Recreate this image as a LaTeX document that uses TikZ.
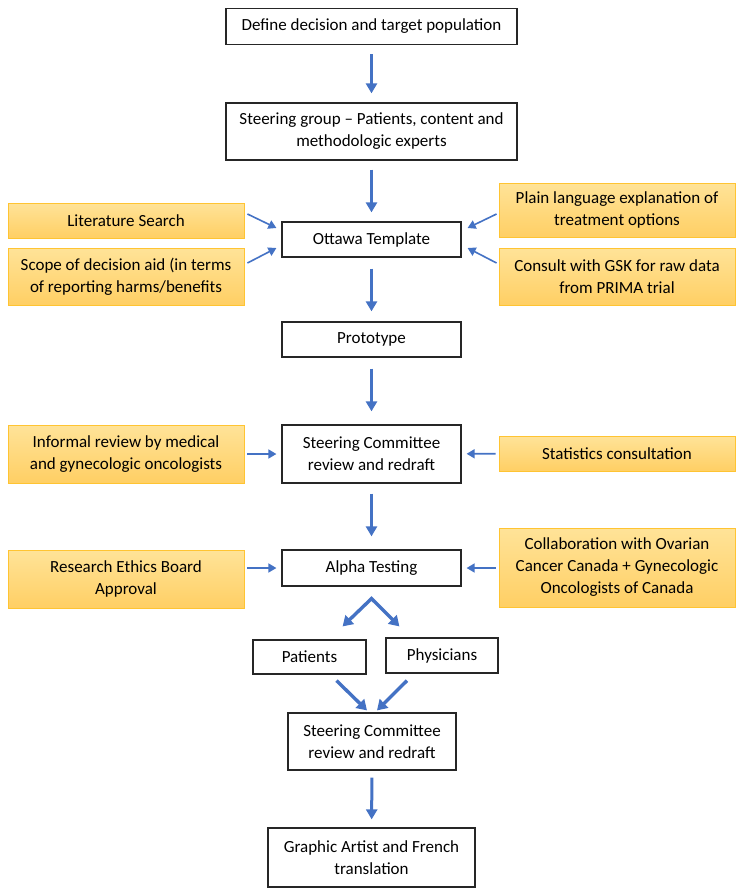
\documentclass[tikz,border=0pt]{standalone}
\usepackage{fontspec}
\setmainfont{Carlito}
\usetikzlibrary{arrows.meta, calc}

\definecolor{flowblue}{RGB}{68,114,196}
\definecolor{inputtop}{RGB}{255,227,152}
\definecolor{inputbot}{RGB}{255,207,100}
\definecolor{inputrule}{RGB}{255,196,50}

\begin{document}
\begin{tikzpicture}[
  x=1pt, y=-1pt,
  font=\fontsize{17}{22}\selectfont,
  stage/.style={draw=black!85, line width=1.2pt, fill=white, align=center, inner sep=0pt},
  input/.style={draw=inputrule, line width=0.9pt, top color=inputtop, bottom color=inputbot,
    align=center, inner sep=0pt, minimum width=236pt},
  vflow/.style={draw=flowblue, line width=3pt, -{Triangle[width=11pt,length=10pt]},
    shorten <=9pt, shorten >=9pt},
  hflow/.style={draw=flowblue, line width=1.6pt, -{Triangle[width=9pt,length=8pt]},
    shorten <=3pt, shorten >=5pt},
  fork/.style={draw=flowblue, line width=3.4pt, -{Triangle[width=12pt,length=10pt]}}
  ]
  \useasboundingbox (0,0) rectangle (742,895);

  % main line of stages
  \node[stage, minimum width=291pt, minimum height=36pt] (define) at (371.5,26.5)
    {Define decision and target population};
  \node[stage, minimum width=291pt, minimum height=57pt] (steer) at (371.5,131.5)
    {Steering group -- Patients, content and\\methodologic experts};
  \node[stage, minimum width=179pt, minimum height=35pt] (ottawa) at (371.5,239.5)
    {Ottawa Template};
  \node[stage, minimum width=179pt, minimum height=35pt] (proto) at (371.5,339.5)
    {Prototype};
  \node[stage, minimum width=179pt, minimum height=58pt] (review) at (371.5,454)
    {Steering Committee\\review and redraft};
  \node[stage, minimum width=179pt, minimum height=36pt] (alpha) at (371.5,568)
    {Alpha Testing};
  \node[stage, minimum width=113pt, minimum height=34pt] (patients) at (309.5,657)
    {Patients};
  \node[stage, minimum width=112pt, minimum height=35pt] (phys) at (442,655.5)
    {Physicians};
  \node[stage, minimum width=168pt, minimum height=57pt] (review2) at (372,741.5)
    {Steering Committee\\review and redraft};
  \node[stage, minimum width=207pt, minimum height=59pt] (graphic) at (371.5,857.5)
    {Graphic Artist and French\\translation};

  % inputs on the left and right
  \node[input, minimum height=35pt] (lit) at (126,220.5) {Literature Search};
  \node[input, minimum height=57pt] (scope) at (126,276.5)
    {Scope of decision aid (in terms\\of reporting harms/benefits};
  \node[input, minimum height=54pt] (plain) at (617,210)
    {Plain language explanation of\\treatment options};
  \node[input, minimum height=57pt] (gsk) at (617,276.5)
    {Consult with GSK for raw data\\from PRIMA trial};
  \node[input, minimum height=58pt] (informal) at (126,454)
    {Informal review by medical\\and gynecologic oncologists};
  \node[input, minimum height=35pt] (stats) at (617,453.5) {Statistics consultation};
  \node[input, minimum height=58pt] (ethics) at (126,579)
    {Research Ethics Board\\Approval};
  \node[input, minimum height=79pt] (collab) at (617,567.5)
    {Collaboration with Ovarian\\Cancer Canada + Gynecologic\\Oncologists of Canada};

  % downward flow
  \draw[vflow] (define) -- (steer);
  \draw[vflow] (steer) -- (ottawa);
  \draw[vflow, shorten <=11pt, shorten >=10pt] (ottawa) -- (proto);
  \draw[vflow, shorten <=11pt, shorten >=13pt] (proto) -- (review);
  \draw[vflow, shorten <=10pt, shorten >=13pt] (review) -- (alpha);
  \draw[vflow, shorten <=7pt, shorten >=8pt] (review2) -- (graphic);

  % inputs into Ottawa Template
  \draw[hflow, shorten <=0pt, shorten >=0pt] ([shift={(3,-6.5)}]lit.east) -- ([shift={(-5,-11.5)}]ottawa.west);
  \draw[hflow, shorten <=0pt, shorten >=0pt] ([shift={(3,-13.5)}]scope.east) -- ([shift={(-5,8.5)}]ottawa.west);
  \draw[hflow, shorten <=0pt, shorten >=0pt] ([shift={(-2,4)}]plain.west) -- ([shift={(6,-11.5)}]ottawa.east);
  \draw[hflow, shorten <=0pt, shorten >=0pt] ([shift={(-2,-13.5)}]gsk.west) -- ([shift={(6,8.5)}]ottawa.east);

  % inputs into review and testing
  \draw[hflow] (informal) -- (review);
  \draw[hflow] (stats) -- (review);
  \draw[hflow] (ethics.east |- alpha.west) -- (alpha.west);
  \draw[hflow] (collab.west |- alpha.east) -- (alpha.east);

  % split to testers and merge back
  \draw[fork, {Triangle[width=12pt,length=10pt]}-{Triangle[width=12pt,length=10pt]}]
    ([shift={(-24,-13)}]patients.north east) -- ([shift={(0,12)}]alpha.south)
    -- ([shift={(14,-11)}]phys.north west);
  \draw[fork] ([shift={(27,6)}]patients.south) -- ([shift={(-5,-2)}]review2.north);
  \draw[fork] ([shift={(-35,7)}]phys.south) -- ([shift={(5,-2)}]review2.north);
\end{tikzpicture}
\end{document}
